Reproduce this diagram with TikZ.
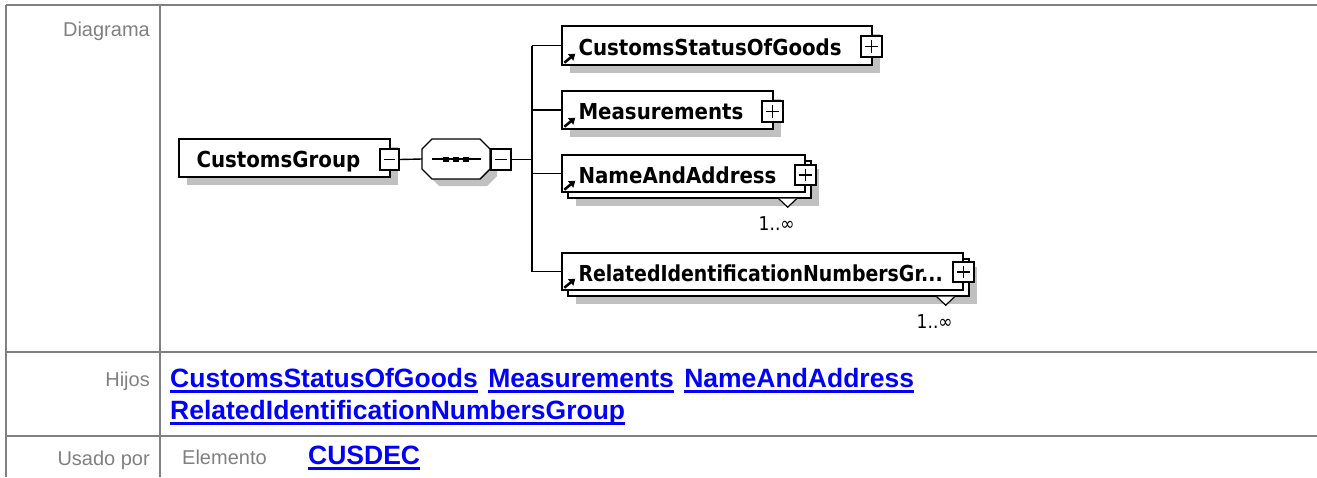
\documentclass[tikz,border=0pt]{standalone}
\usepackage{fontspec}
\setmainfont{Liberation Sans}
\newfontfamily\dejavu{DejaVu Sans}[FakeStretch=0.9]
\newfontfamily\dejavun{DejaVu Sans}[FakeStretch=0.86]
\usetikzlibrary{shadows,arrows.meta}
\definecolor{tgray}{HTML}{808080}
\definecolor{shgray}{HTML}{C0C0C0}
\definecolor{lblue}{HTML}{0000FF}
\begin{document}
\begin{tikzpicture}[x=1pt,y=-1pt,
  tline/.style={draw=tgray,line width=2pt},
  lbl/.style={text=tgray,font=\fontsize{20}{24}\selectfont,inner sep=0pt},
  lnk/.style={text=lblue,font=\bfseries\fontsize{26.5}{30}\selectfont,inner sep=0pt,anchor=base west},
  uline/.style={draw=lblue,line width=2.5pt},
  ebox/.style={draw=black,fill=white,line width=1.4pt,inner sep=0pt},
  shd/.style={drop shadow={shadow xshift=8pt,shadow yshift=-8pt,fill=shgray,opacity=1}},
  etext/.style={font=\dejavu\bfseries\fontsize{22}{26}\selectfont,inner sep=0pt,anchor=base west},
  mult/.style={font=\dejavu\fontsize{19}{22}\selectfont,inner sep=0pt},
  conn/.style={draw=black,line width=1.4pt},
  pmbox/.style={ebox,minimum width=20pt,minimum height=21pt},
  minusbox/.style={pmbox,path picture={\draw[line width=1.3pt] ([xshift=4pt]path picture bounding box.west) -- ([xshift=-4pt]path picture bounding box.east);}},
  plusbox/.style={pmbox,path picture={\draw[line width=1.3pt] ([xshift=4pt]path picture bounding box.west) -- ([xshift=-4pt]path picture bounding box.east);
      \draw[line width=1.3pt] ([yshift=-4pt]path picture bounding box.north) -- ([yshift=4pt]path picture bounding box.south);}},
  refarrow/.style={line width=2.5pt,-{Triangle[length=6pt,width=8pt]}},
  tri/.style={draw=black,fill=white,line width=1.2pt}
]
\useasboundingbox (0,0) rectangle (1317,477);
% table
\draw[tline] (6,5) -- (1317,5);
\draw[tline] (6,5) -- (6,477);
\draw[tline] (160,5) -- (160,477);
\draw[tline] (6,352) -- (1317,352);
\draw[tline] (6,436) -- (1317,436);
\node[lbl,anchor=base east] (ldiag) at (150,36) {Diagrama};
\node[lbl,anchor=base east] (lhijos) at (150,386) {Hijos};
\node[lbl,anchor=base east] (lusado) at (150,465) {Usado por};
\node[lbl,anchor=base west] (lelem) at (182,464) {Elemento};
% links
\node[lnk] (l1) at (170,387) {CustomsStatusOfGoods};
\node[lnk] (l2) at ([xshift=10pt]l1.base east) {Measurements};
\node[lnk] (l3) at ([xshift=10pt]l2.base east) {NameAndAddress};
\node[lnk] (l4) at (170,419) {RelatedIdentificationNumbersGroup};
\node[lnk] (l5) at (308,464) {CUSDEC};
\foreach \l in {l1,l2,l3,l4,l5}{
  \draw[uline] ([yshift=-4.5pt]\l.base west) -- ([yshift=-4.5pt]\l.base east);
}
% diagram: CustomsGroup
\node[ebox,shd,minimum width=211pt,minimum height=38pt] (cg) at (284.5,158) {};
\node[etext] (cgt) at ([xshift=18pt,yshift=-9pt]cg.west) {CustomsGroup};
\node[minusbox,minimum width=19pt] (cgm) at (389.5,159.5) {};
% sequence
\node[minimum width=68pt,minimum height=40pt,inner sep=0pt] (seq) at (456,159) {};
\fill[shgray] (439,146) -- (487,146) -- (497,156) -- (497,176) -- (487,186) -- (439,186) -- (429,176) -- (429,156) -- cycle;
\filldraw[ebox] (432,139) -- (480,139) -- (490,149) -- (490,169) -- (480,179) -- (432,179) -- (422,169) -- (422,149) -- cycle;
\draw[conn] (432,159) -- (481,159);
\fill (443,156.5) rectangle (449,161.5);
\fill (453,156.5) rectangle (459,161.5);
\fill (463,156.5) rectangle (469,161.5);
\node[minusbox] (seqm) at (501,159.5) {};
\draw[conn] (cgm.east) -- (seq.west);
% children
\node[ebox,shd,minimum width=310pt,minimum height=39pt] (c1) at (717,45.5) {};
\node[ebox,shd,minimum width=211pt,minimum height=38pt] (c2) at (667.5,110) {};
\node[ebox,shd,minimum width=243pt,minimum height=37pt] (c3b) at (689.5,179.5) {};
\node[ebox,minimum width=243pt,minimum height=37pt] (c3) at (683.5,173.5) {};
\node[ebox,shd,minimum width=401pt,minimum height=37pt] (c4b) at (768.5,277.5) {};
\node[ebox,minimum width=401pt,minimum height=37pt] (c4) at (762.5,271.5) {};
% multiplicity triangles
\filldraw[tri] ([xshift=-33pt]c3b.south east) -- ([xshift=-24pt,yshift=-8.5pt]c3b.south east) -- ([xshift=-15pt]c3b.south east);
\filldraw[tri] ([xshift=-33pt]c4b.south east) -- ([xshift=-24pt,yshift=-8.5pt]c4b.south east) -- ([xshift=-15pt]c4b.south east);
\node[mult] (m3) at ([xshift=-35pt,yshift=-24.5pt]c3b.south east) {1..∞};
\node[mult] (m4) at ([xshift=-35pt,yshift=-24.5pt]c4b.south east) {1..∞};
% texts
\node[etext] (c1t) at ([xshift=17pt,yshift=-9.5pt]c1.west) {CustomsStatusOfGoods};
\node[etext] (c2t) at ([xshift=17pt,yshift=-9.5pt]c2.west) {Measurements};
\node[etext] (c3t) at ([xshift=17pt,yshift=-9.5pt]c3.west) {NameAndAddress};
\node[etext,font=\dejavun\bfseries\fontsize{22}{26}\selectfont] (c4t) at ([xshift=17pt,yshift=-9.5pt]c4.west) {RelatedIdentificationNumbersGr...};
% reference arrows
\foreach \c in {c1,c2,c3,c4}{
  \draw[refarrow] ([xshift=3pt,yshift=3pt]\c.south west) -- ++(11pt,9pt);
}
% plus boxes
\node[plusbox,minimum width=21pt] (c1p) at (871.5,46.5) {};
\node[plusbox,minimum width=21pt] (c2p) at (772.5,111.5) {};
\node[plusbox,minimum width=21pt,minimum height=20pt] (c3p) at (805.5,175) {};
\node[plusbox,minimum width=21pt,minimum height=20pt] (c4p) at (963.5,272) {};
% connectors
\coordinate (sp) at (532,159.5);
\draw[conn] (seqm.east) -- (sp);
\draw[conn] (sp |- c1.west) -- (sp |- c4.west);
\draw[conn] (sp |- c1.west) -- (c1.west);
\draw[conn] (sp |- c2.west) -- (c2.west);
\draw[conn] (sp |- c3.west) -- (c3.west);
\draw[conn] (sp |- c4.west) -- (c4.west);
\end{tikzpicture}
\end{document}
